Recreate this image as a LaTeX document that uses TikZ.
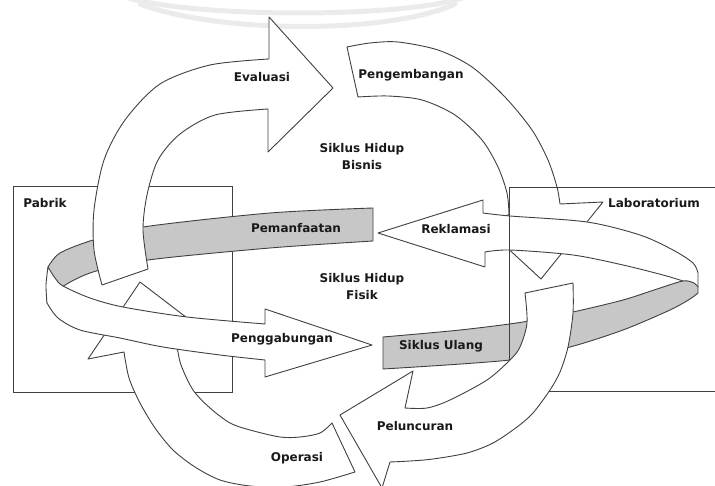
\documentclass[tikz,border=0pt]{standalone}
\usepackage{fontspec}
\setmainfont{DejaVu Sans}
\tikzset{
  band/.style={draw=black!75, line width=0.9pt, fill=white, line join=round},
  greyband/.style={band, fill=black!22},
  boxline/.style={draw=black!75, line width=0.9pt},
  lbl/.style={font=\fontsize{12}{17}\selectfont\bfseries, text=black!90, inner sep=0pt, align=center},
  wmark/.style={draw=black!8, line width=5pt, line cap=round}
}
\begin{document}
\begin{tikzpicture}[x=1pt,y=-1pt]
\useasboundingbox (0,0) rectangle (715,486);
% faint watermark at the top
\draw[wmark] (128,-2) .. controls (200,18) and (400,18) .. (462,-2);
\draw[wmark] (140,4) .. controls (220,34) and (390,34) .. (455,4);
% Pabrik
\draw[boxline] (13,186) rectangle (232,392);
% back of the ring, grey side
\draw[greyband] (373,241) -- (373,208)
  -- plot[smooth] coordinates {(373,208) (270,213) (143,227) (93,240) (60,253) (48,267)}
  -- (47,303)
  -- plot[smooth] coordinates {(47,303) (62,287) (93,272) (148,260) (270,248) (373,241)} -- cycle;
% Evaluasi
\draw[band] plot[smooth] coordinates {(102,285) (94,250) (94,210) (104,160) (125,120) (160,84) (210,65) (269,59)}
  -- (269,17) -- (333,88) -- (268,152) -- (268,109)
  -- plot[smooth] coordinates {(268,109) (215,115) (180,134) (158,160) (147,195) (143,230) (148,269)} -- cycle;
% Operasi
\draw[band] (332,423) -- (355,472)
  -- plot[smooth] coordinates {(355,472) (320,482) (285,487) (250,486) (220,480) (195,467) (173,450) (155,428) (140,403) (129,378) (124,352)}
  -- (88,359) -- (140,282) -- (212,337) -- (177,346)
  -- plot[smooth] coordinates {(177,346) (181,365) (193,390) (210,408) (230,423) (250,430) (280,437) (300,437) (320,433) (332,423)} -- cycle;
% front of the ring, Penggabungan
\draw[band] (265,324) -- (265,309) -- (372,345) -- (265,377) -- (265,360)
  -- plot[smooth] coordinates {(265,360) (220,355) (163,347) (120,338) (80,330) (58,318) (47,303)}
  -- plot[smooth] coordinates {(47,303) (46,285) (48,267)}
  -- plot[smooth] coordinates {(48,267) (55,278) (63,286) (90,298) (123,307) (187,317) (265,324)} -- cycle;
% Pengembangan
\draw[band] (347,47) -- (358,97)
  -- plot[smooth] coordinates {(358,97) (388,96) (422,100) (455,115) (482,140) (498,167) (507,193) (509,214)}
  -- (490,232) -- (541,279) -- (603,202) -- (560,204)
  -- plot[smooth] coordinates {(560,204) (557,187) (548,160) (532,130) (505,97) (472,67) (438,50) (398,42) (370,43) (347,47)} -- cycle;
% back of the ring, Reklamasi
\draw[band] (378,233) -- (483,200) -- (483,213)
  -- plot[smooth] coordinates {(483,213) (510,216) (587,222) (640,235) (673,250) (693,263) (698,273)}
  -- (698,287) -- (683,281)
  -- plot[smooth] coordinates {(683,281) (663,275) (623,265) (573,255) (510,250) (485,252)}
  -- (485,267) -- cycle;
% front of the ring, Siklus Ulang
\draw[greyband] (383,369) -- (383,337)
  -- plot[smooth] coordinates {(383,337) (460,330) (523,322) (573,312) (623,300) (657,289) (683,281) (694,283) (698,287)}
  -- (698,293)
  -- plot[smooth] coordinates {(698,293) (690,299) (670,310) (623,330) (570,347) (510,360) (383,369)} -- cycle;
% Laboratorium
\draw[boxline] (716,187) -| (509,391) -- (716,391);
% Peluncuran
\draw[band] (525,293) -- (573,283)
  -- plot[smooth] coordinates {(573,283) (573,313) (568,347) (560,372) (550,390) (533,413) (517,427) (493,443) (467,453) (433,459) (410,461) (390,462)}
  -- (382,488) -- (340,415) -- (413,371) -- (405,408)
  -- plot[smooth] coordinates {(405,408) (427,408) (450,400) (487,380) (510,360) (520,347) (527,323) (525,293)} -- cycle;
% labels
\foreach \nm/\px/\py/\txt in {evaluasi/262/77/Evaluasi, pengembangan/411/75/Pengembangan,
    pemanfaatan/296/228/Pemanfaatan, reklamasi/456/229/Reklamasi,
    penggabungan/282/339/Penggabungan, siklusulang/441/346/Siklus Ulang,
    peluncuran/415/426/Peluncuran, operasi/297/458/Operasi,
    pabrik/45/203/Pabrik, laboratorium/654/203/Laboratorium}
  \node[lbl] (\nm) at (\px,\py) {\txt};
\node[lbl] (bisnis) at (362,157) {Siklus Hidup\\Bisnis};
\node[lbl] (fisik) at (362,287) {Siklus Hidup\\Fisik};
\end{tikzpicture}
\end{document}
